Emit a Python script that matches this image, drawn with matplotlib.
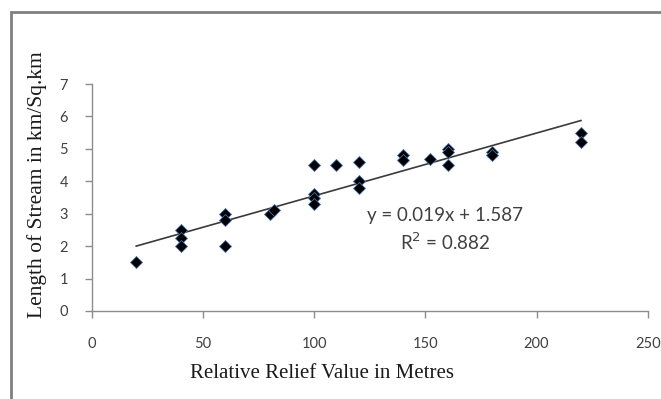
import numpy as np
import matplotlib
matplotlib.use("Agg")
import matplotlib.pyplot as plt
from matplotlib.patches import Rectangle

relief = [20, 40, 40, 40, 60, 60, 60, 80, 82, 100, 100, 100, 100, 110,
          120, 120, 120, 140, 140, 152, 160, 160, 160, 180, 180, 220, 220]
stream_len = [1.5, 2.5, 2.25, 2.0, 3.0, 2.8, 2.0, 3.0, 3.1, 4.5, 3.6, 3.5, 3.3, 4.5,
              4.6, 4.0, 3.8, 4.8, 4.65, 4.7, 5.0, 4.9, 4.5, 4.9, 4.8, 5.5, 5.2]
x_ticks = [0, 50, 100, 150, 200, 250]
y_ticks = [0, 1, 2, 3, 4, 5, 6, 7]
eq_text = "y = 0.019x + 1.587"
r2_text = "R$^2$ = 0.882"

W, H = 661, 399
fig = plt.figure(figsize=(W / 100, H / 100), dpi=100)
fig.patch.set_facecolor("white")

# outer chart frame (extends past right/bottom edges)
fig.patches.append(Rectangle((10.5 / W, -0.2), 1.2, 1.2 - 12 / H,
                             transform=fig.transFigure, fill=False,
                             edgecolor="#808080", linewidth=2))

ax = fig.add_axes([91.7 / W, 1 - 311 / H, (647.7 - 91.7) / W, (311 - 84) / H])
ax.set_xlim(0, 250)
ax.set_ylim(0, 7)
ax.set_xticks(x_ticks)
ax.set_yticks(y_ticks)

for s in ["top", "right"]:
    ax.spines[s].set_visible(False)
for s in ["left", "bottom"]:
    ax.spines[s].set_color("#8c8c8c")
    ax.spines[s].set_linewidth(1)
ax.tick_params(direction="out", length=5, color="#8c8c8c", width=1,
               labelsize=10.5, labelcolor="#404040")
ax.tick_params(axis="x", pad=14)
ax.tick_params(axis="y", pad=12)
for lab in ax.get_xticklabels() + ax.get_yticklabels():
    lab.set_fontfamily("Lato")

# trend line
coef = np.polyfit(relief, stream_len, 1)
xl = np.array([min(relief), max(relief)])
ax.plot(xl, np.polyval(coef, xl), color="#3a3a3a", linewidth=1.2, zorder=2)

ax.plot(relief, stream_len, linestyle="none", marker="D", markersize=6.3,
        markerfacecolor="black", markeredgecolor="#4a6fa5", markeredgewidth=0.6,
        zorder=3)

ax.text(159, 2.95, eq_text, ha="center", va="center", fontsize=13.5,
        family="Lato", color="#404040")
ax.text(159, 2.12, r2_text, ha="center", va="center", fontsize=13.5,
        family="Lato", color="#404040")

ax.set_xlabel("Relative Relief Value in Metres", family="Liberation Serif",
              fontsize=15, color="#1a1a1a", va="center")
ax.xaxis.set_label_coords(0.414, -0.2775)
ax.set_ylabel("Length of Stream in km/Sq.km", family="Liberation Serif",
              fontsize=15.5, color="#1a1a1a", va="center")
ax.yaxis.set_label_coords(-0.099, 0.555)

fig.savefig("out.png", dpi=100)
